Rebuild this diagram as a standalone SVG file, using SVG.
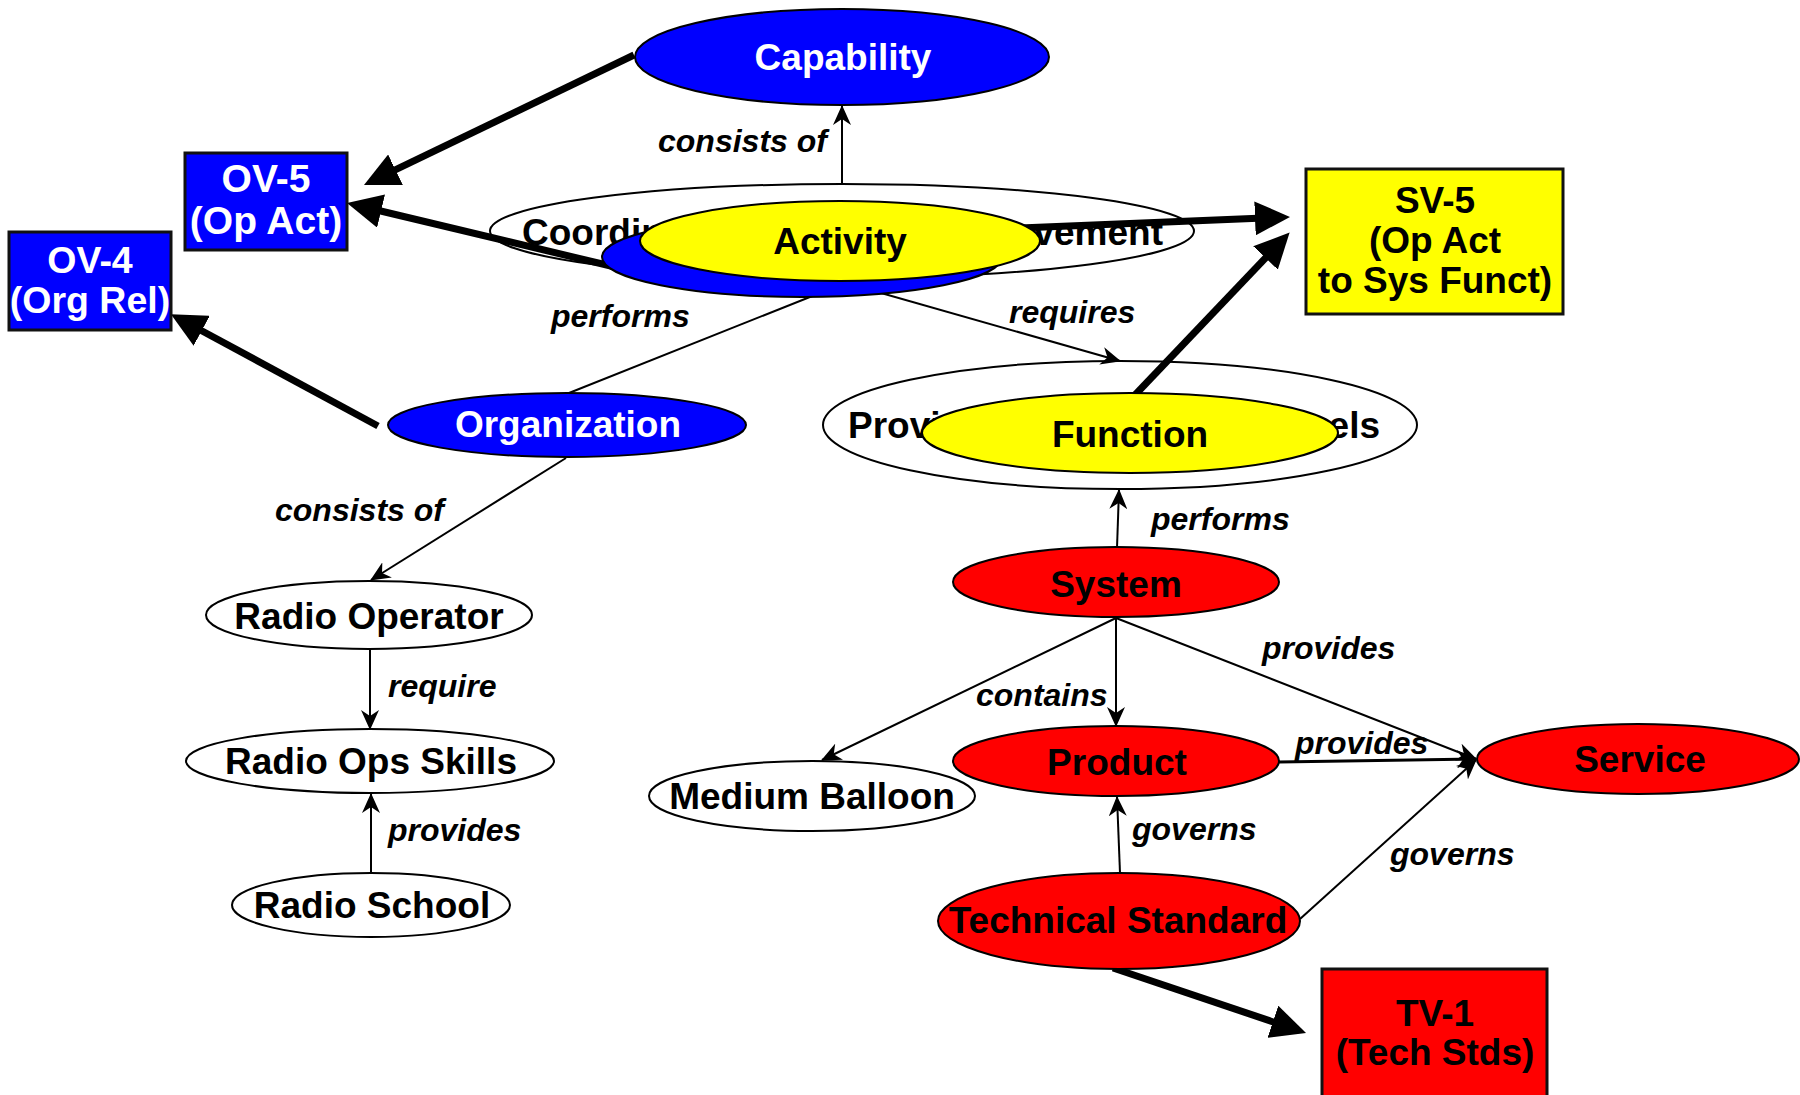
<svg xmlns="http://www.w3.org/2000/svg" width="1800" height="1095" viewBox="0 0 1800 1095">
<style>
.bg{fill:#ffffff}
.ell{stroke:#000;stroke-width:2}
.box{stroke:#111;stroke-width:3}
.blue{fill:#0000ff}
.yellow{fill:#ffff00}
.red{fill:#ff0000}
.white{fill:#ffffff}
.nt{font-family:"Liberation Sans",Arial,Helvetica,sans-serif;font-weight:bold;font-size:37px;fill:#000;text-anchor:middle}
.nw{fill:#ffffff}
.frag{font-family:"Liberation Sans",Arial,Helvetica,sans-serif;font-weight:bold;font-size:37px;fill:#000}
.lbl{font-family:"Liberation Sans",Arial,Helvetica,sans-serif;font-weight:bold;font-style:italic;font-size:32px;fill:#000}
.thin{fill:none;stroke:#000;stroke-width:2;marker-end:url(#thinArrow)}
.thick{fill:none;stroke:#000;stroke-width:7;marker-end:url(#thickArrow)}
</style>
<defs>
<marker id="thinArrow" markerUnits="userSpaceOnUse" viewBox="0 0 20 18" markerWidth="20" markerHeight="18" refX="19" refY="9" orient="auto">
<path d="M0,0 L20,9 L0,18 L6,9 z" fill="#000"/>
</marker>
<marker id="thickArrow" markerUnits="userSpaceOnUse" viewBox="0 0 35 34" markerWidth="35" markerHeight="34" refX="9" refY="17" orient="auto">
<path d="M0,0 L35,17 L0,34 z" fill="#000"/>
</marker>
</defs>
<rect class="bg" x="0" y="0" width="1800" height="1095"/>

<g id="node-coordinating-movement">
<ellipse class="ell white" cx="842" cy="231" rx="352" ry="47"/>
<text class="frag" x="522" y="245">Coordin</text>
<text class="frag" x="1163" y="245" text-anchor="end">vement</text>
</g>
<g id="node-provide-channels">
<ellipse class="ell white" cx="1120" cy="425" rx="297" ry="64"/>
<text class="frag" x="848" y="438">Provi</text>
<text class="frag" x="1380" y="438" text-anchor="end">els</text>
</g>

<g id="connectors">
<path class="thick" d="M634,55 L387.4,173.7"/>
<path class="thick" d="M615,267 L372.3,209"/>
<path class="thick" d="M378,426 L193.8,326.5"/>
<path class="thick" d="M1020,228 L1264,218"/>
<path class="thick" d="M1134,396 L1271.7,251.4"/>
<path class="thick" d="M1113,968 L1281.4,1024.7"/>
<path class="thin" d="M842,184 L842,106"/>
<path class="thin" d="M569,393 L850,281"/>
<path class="thin" d="M860,287 L1120,361"/>
<path class="thin" d="M1117,548 L1119,490"/>
<path class="thin" d="M1116,618 L822,760"/>
<path class="thin" d="M1116,618 L1116,726"/>
<path class="thin" d="M1116,618 L1476,759"/>
<path class="thin" d="M1279,762 L1476,759" style="stroke-width:3"/>
<path class="thin" d="M1120,873 L1117,797"/>
<path class="thin" d="M1300,919 L1476,760"/>
<path class="thin" d="M566,458 L371,580"/>
<path class="thin" d="M370,649 L370,729"/>
<path class="thin" d="M371,873 L371,794"/>
<text class="lbl" x="658" y="152">consists of</text>
<text class="lbl" x="551" y="327">performs</text>
<text class="lbl" x="1009" y="323">requires</text>
<text class="lbl" x="1151" y="530">performs</text>
<text class="lbl" x="275" y="521">consists of</text>
<text class="lbl" x="388" y="697">require</text>
<text class="lbl" x="388" y="841">provides</text>
<text class="lbl" x="976" y="706">contains</text>
<text class="lbl" x="1262" y="659">provides</text>
<text class="lbl" x="1295" y="754">provides</text>
<text class="lbl" x="1132" y="840">governs</text>
<text class="lbl" x="1390" y="865">governs</text>
</g>

<g id="node-capability">
<ellipse class="ell blue" cx="842" cy="57" rx="207" ry="48"/>
<text class="nt nw" x="843" y="70">Capability</text>
</g>
<g id="node-activity">
<ellipse class="ell blue" cx="802" cy="257" rx="200" ry="40"/>
<ellipse class="ell yellow" cx="840" cy="241" rx="200" ry="40"/>
<text class="nt" x="840" y="254">Activity</text>
</g>
<g id="node-organization">
<ellipse class="ell blue" cx="567" cy="425" rx="179" ry="32"/>
<text class="nt nw" x="568" y="437">Organization</text>
</g>
<g id="node-function">
<ellipse class="ell yellow" cx="1130" cy="433" rx="208" ry="40"/>
<text class="nt" x="1130" y="447">Function</text>
</g>
<g id="node-system">
<ellipse class="ell red" cx="1116" cy="582" rx="163" ry="35"/>
<text class="nt" x="1116" y="597">System</text>
</g>
<g id="node-product">
<ellipse class="ell red" cx="1116" cy="761" rx="163" ry="35"/>
<text class="nt" x="1117" y="775">Product</text>
</g>
<g id="node-service">
<ellipse class="ell red" cx="1638" cy="759" rx="161" ry="35"/>
<text class="nt" x="1640" y="772">Service</text>
</g>
<g id="node-medium-balloon">
<ellipse class="ell white" cx="812" cy="796" rx="163" ry="35"/>
<text class="nt" x="812" y="809">Medium Balloon</text>
</g>
<g id="node-technical-standard">
<ellipse class="ell red" cx="1119" cy="921" rx="181" ry="48"/>
<text class="nt" x="1118" y="933">Technical Standard</text>
</g>
<g id="node-radio-operator">
<ellipse class="ell white" cx="369" cy="615" rx="163" ry="34"/>
<text class="nt" x="369" y="629">Radio Operator</text>
</g>
<g id="node-radio-ops-skills">
<ellipse class="ell white" cx="370" cy="761" rx="184" ry="32"/>
<text class="nt" x="371" y="774">Radio Ops Skills</text>
</g>
<g id="node-radio-school">
<ellipse class="ell white" cx="371" cy="905" rx="139" ry="32"/>
<text class="nt" x="372" y="918">Radio School</text>
</g>
<g id="node-ov5">
<rect class="box blue" x="185" y="153" width="162" height="97"/>
<text class="nt nw" x="266" y="192" style="font-size:39px">OV-5</text>
<text class="nt nw" x="266" y="234" style="font-size:39px">(Op Act)</text>
</g>
<g id="node-ov4">
<rect class="box blue" x="9" y="232" width="162" height="98"/>
<text class="nt nw" x="90" y="273" style="font-size:37.5px">OV-4</text>
<text class="nt nw" x="90" y="313" style="font-size:37.5px">(Org Rel)</text>
</g>
<g id="node-sv5">
<rect class="box yellow" x="1306" y="169" width="257" height="145"/>
<text class="nt" x="1435" y="213">SV-5</text>
<text class="nt" x="1435" y="253">(Op Act</text>
<text class="nt" x="1435" y="293">to Sys Funct)</text>
</g>
<g id="node-tv1">
<rect class="box red" x="1322" y="969" width="225" height="140"/>
<text class="nt" x="1435" y="1026">TV-1</text>
<text class="nt" x="1435" y="1065">(Tech Stds)</text>
</g>
</svg>
